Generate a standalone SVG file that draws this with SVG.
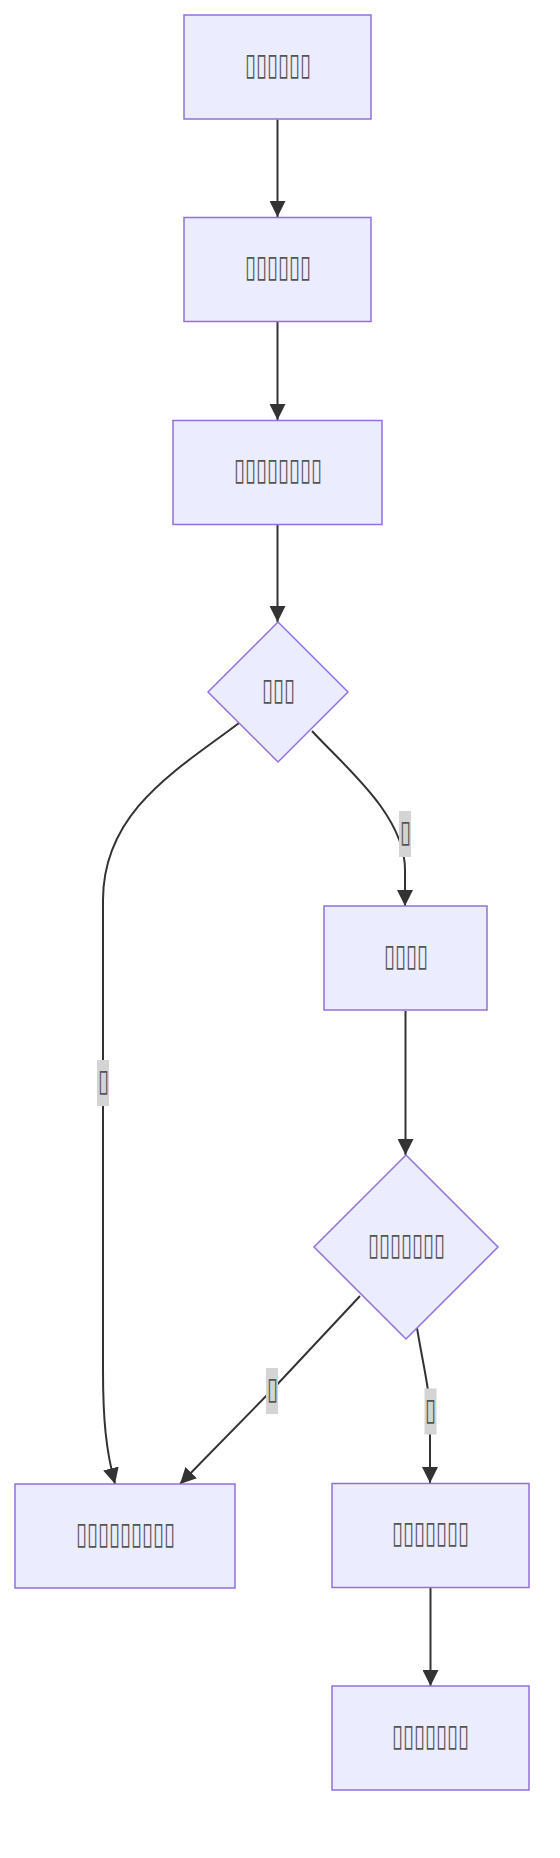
<svg xmlns="http://www.w3.org/2000/svg" width="560" height="1858" viewBox="0 0 560 1858">
<style>
.node rect,.node polygon{fill:#ECECFF;stroke:#9370DB;stroke-width:1.5}
.lbl{font-family:"DejaVu Sans",sans-serif;font-size:31px;font-weight:200;fill:#555;text-anchor:middle;dominant-baseline:central}
.edge{fill:none;stroke:#333;stroke-width:2;marker-end:url(#arr)}
.elbg{fill:#d4d4d4}
</style>
<defs>
<marker id="arr" viewBox="0 0 10 10" refX="10" refY="5" markerUnits="userSpaceOnUse" markerWidth="16" markerHeight="16" orient="auto">
<path d="M0,0 L10,5 L0,10 z" fill="#333"/>
</marker>
</defs>
<rect width="560" height="1858" fill="#fff"/>
<g id="connectors">
<path class="edge" d="M277.5,119.5 L277.5,217"/>
<path class="edge" d="M277.5,322 L277.5,420"/>
<path class="edge" d="M277.5,525 L277.5,622"/>
<path class="edge" d="M312,731 C345,767 405,815 405,870 L405,906"/>
<path class="edge" d="M239,723 C180,768 103,810 103,900 L103,1370 C103,1420 106,1450 115,1484"/>
<path class="edge" d="M405.5,1011 L405.5,1155"/>
<path class="edge" d="M360,1296 L272,1390 L180,1484"/>
<path class="edge" d="M417,1328 C424,1370 430,1390 430,1420 L430,1483"/>
<path class="edge" d="M430.5,1588 L430.5,1686"/>
<g id="edge-labels">
<rect class="elbg" x="399" y="811" width="12" height="46"/>
<text class="lbl" x="405" y="831" textLength="11" lengthAdjust="spacingAndGlyphs">▯</text>
<rect class="elbg" x="97" y="1060" width="12" height="46"/>
<text class="lbl" x="103" y="1080" textLength="11" lengthAdjust="spacingAndGlyphs">▯</text>
<rect class="elbg" x="266" y="1368" width="12" height="46"/>
<text class="lbl" x="272" y="1388" textLength="11" lengthAdjust="spacingAndGlyphs">▯</text>
<rect class="elbg" x="424.5" y="1388.5" width="12" height="46"/>
<text class="lbl" x="430.5" y="1408.5" textLength="11" lengthAdjust="spacingAndGlyphs">▯</text>
</g>
</g>
<g id="n1" class="node"><rect x="184" y="15" width="187" height="104"/><text class="lbl" x="277.5" y="63.5" textLength="66" lengthAdjust="spacingAndGlyphs">▯▯▯▯▯▯</text></g>
<g id="n2" class="node"><rect x="184" y="217.5" width="187" height="104"/><text class="lbl" x="277.5" y="266" textLength="66" lengthAdjust="spacingAndGlyphs">▯▯▯▯▯▯</text></g>
<g id="n3" class="node"><rect x="173" y="420.5" width="209" height="104"/><text class="lbl" x="277.5" y="469" textLength="88" lengthAdjust="spacingAndGlyphs">▯▯▯▯▯▯▯▯</text></g>
<g id="d1" class="node"><polygon points="278,622 348,692 278,762 208,692"/><text class="lbl" x="278" y="688.5" textLength="33" lengthAdjust="spacingAndGlyphs">▯▯▯</text></g>
<g id="n4" class="node"><rect x="324" y="906" width="163" height="104"/><text class="lbl" x="405.5" y="954.5" textLength="44" lengthAdjust="spacingAndGlyphs">▯▯▯▯</text></g>
<g id="d2" class="node"><polygon points="406,1155 498,1247 406,1339 314,1247"/><text class="lbl" x="406" y="1243.5" textLength="77" lengthAdjust="spacingAndGlyphs">▯▯▯▯▯▯▯</text></g>
<g id="n5" class="node"><rect x="15" y="1484" width="220" height="104"/><text class="lbl" x="125" y="1532.5" textLength="99" lengthAdjust="spacingAndGlyphs">▯▯▯▯▯▯▯▯▯</text></g>
<g id="n6" class="node"><rect x="332" y="1483.5" width="197" height="104"/><text class="lbl" x="430.5" y="1532" textLength="77" lengthAdjust="spacingAndGlyphs">▯▯▯▯▯▯▯</text></g>
<g id="n7" class="node"><rect x="332" y="1686" width="197" height="104"/><text class="lbl" x="430.5" y="1734.5" textLength="77" lengthAdjust="spacingAndGlyphs">▯▯▯▯▯▯▯</text></g>
</svg>
